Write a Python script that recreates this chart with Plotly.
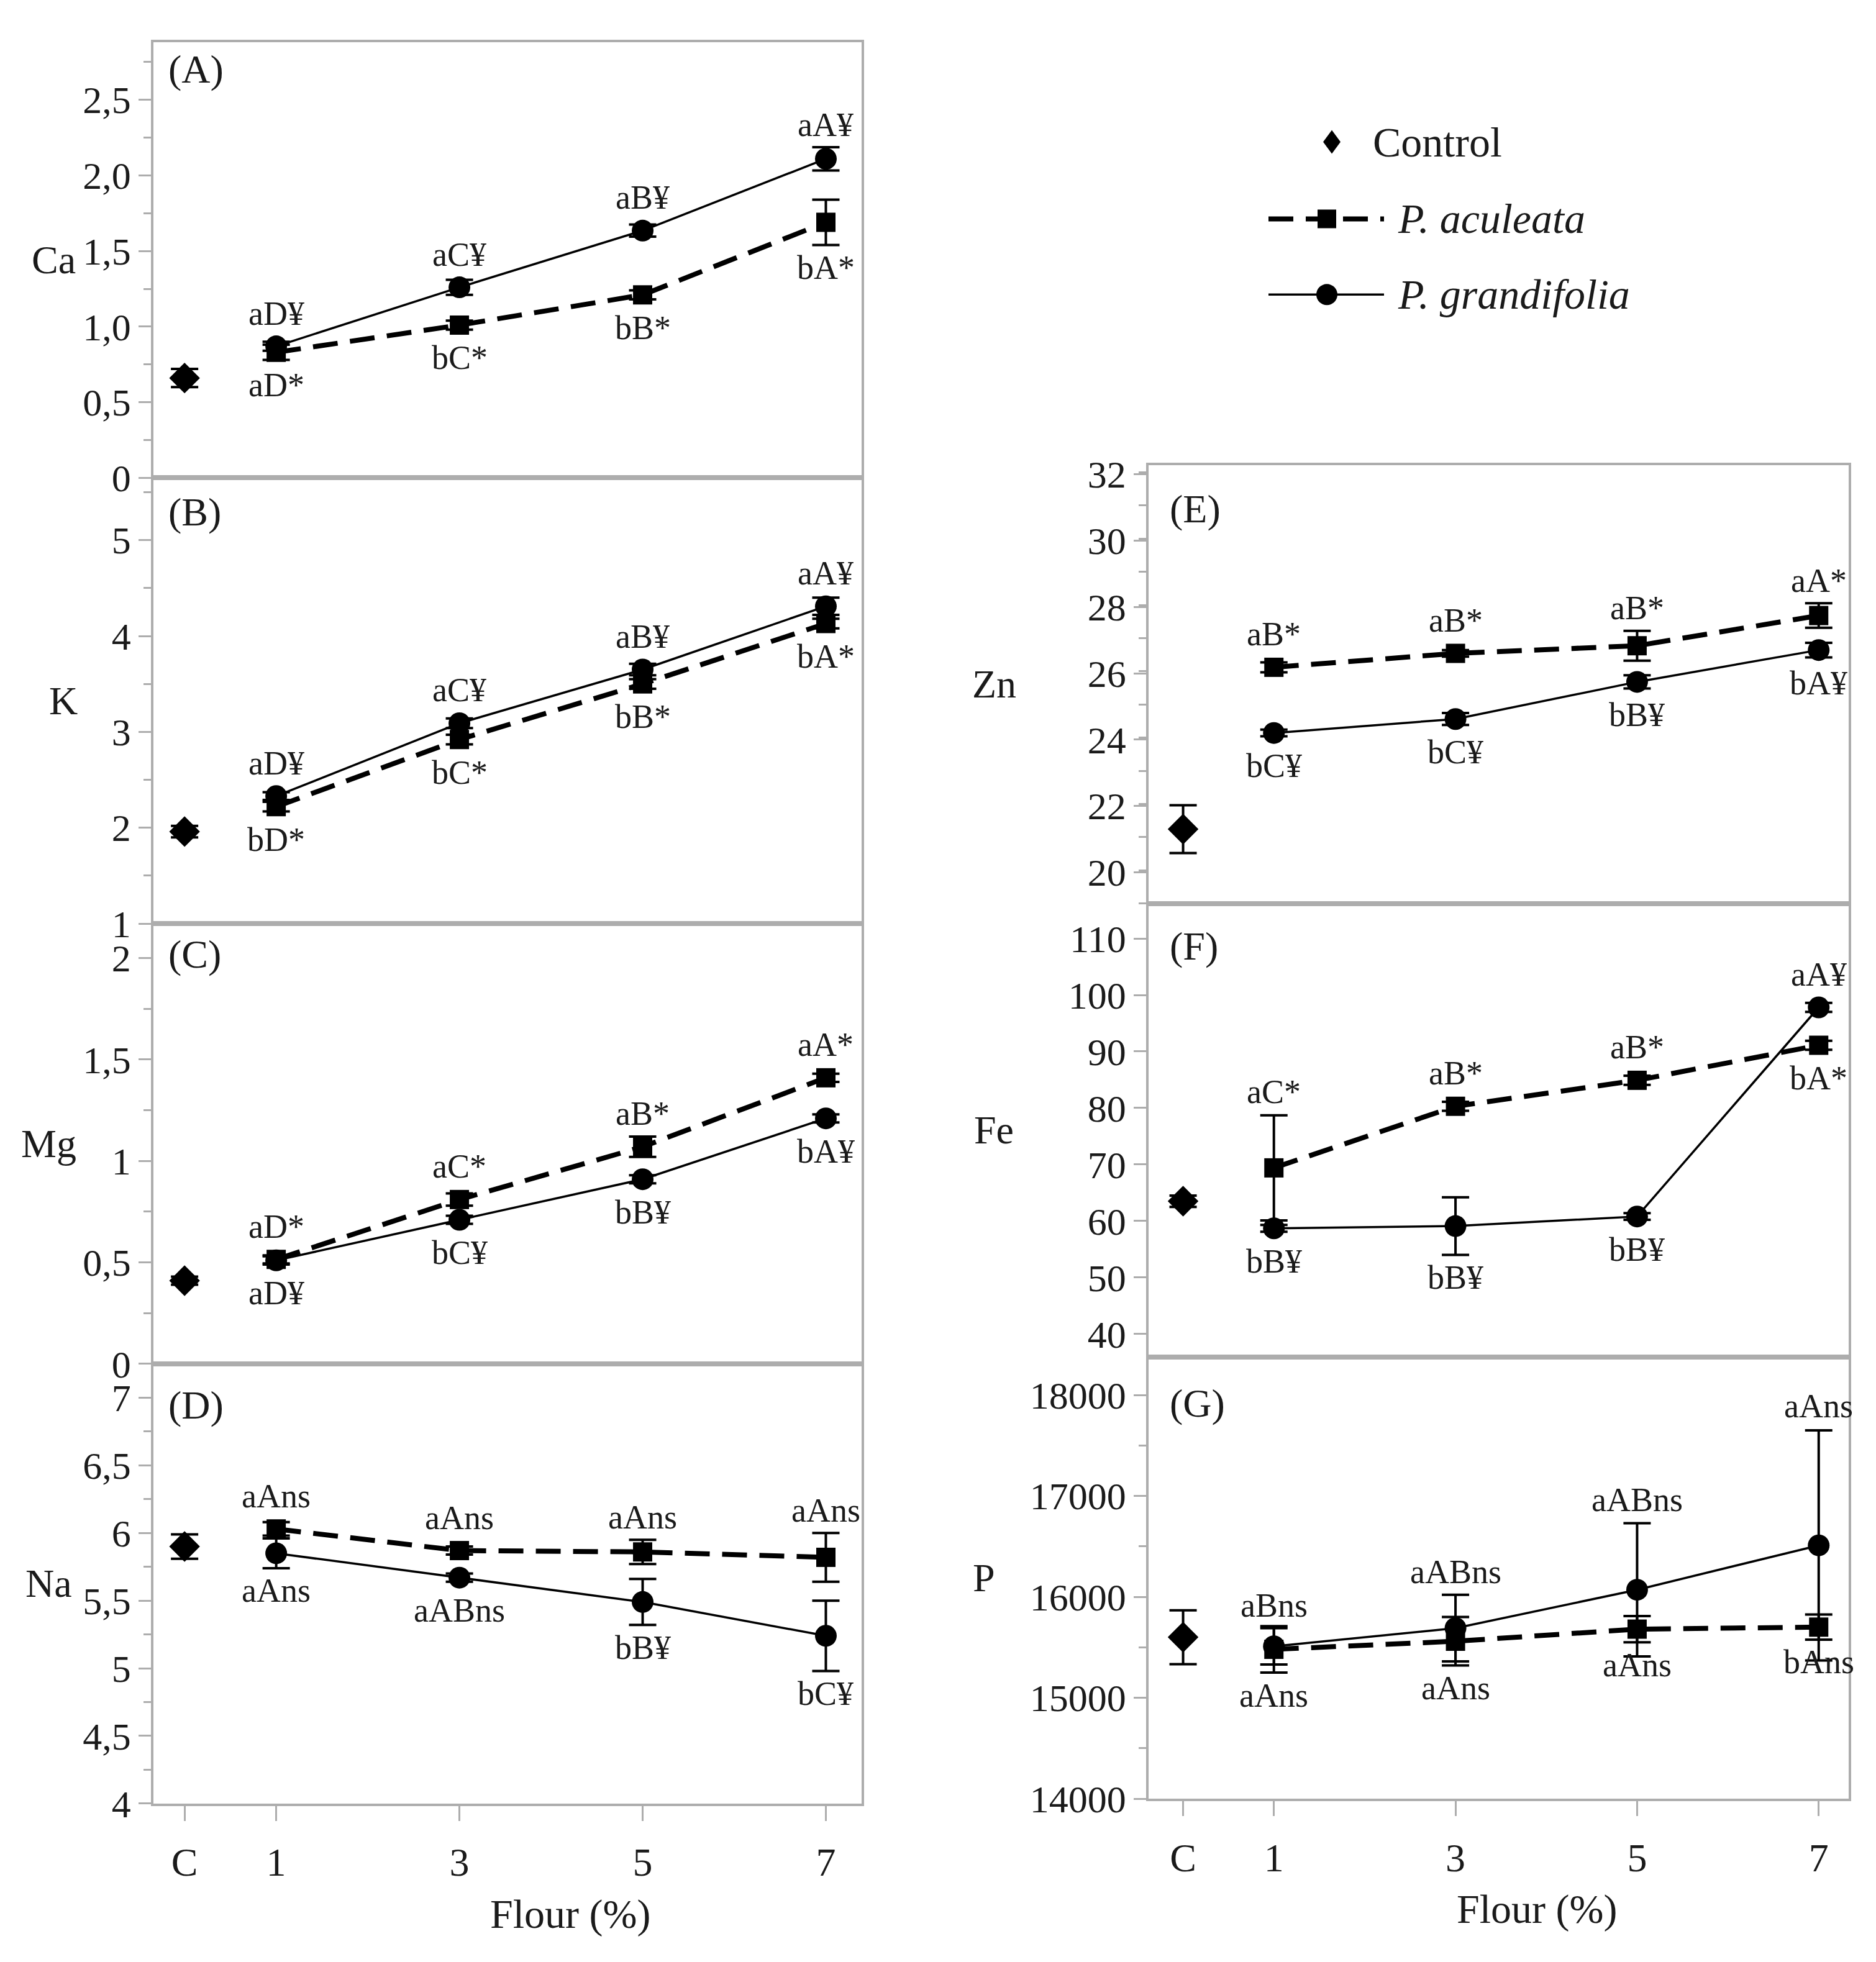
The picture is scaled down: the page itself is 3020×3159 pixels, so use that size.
import plotly.graph_objects as go

W, H = 3020, 3159

flour = [1, 3, 5, 7]
ctrl_x = [0]
x_tickvals = [0, 1, 3, 5, 7]
x_ticktext = ["C", "1", "3", "5", "7"]

# (A) Ca
ca_ctrl, ca_ctrl_err = [0.66], [0.06]
ca_acu = [0.83, 1.01, 1.21, 1.69]
ca_acu_err = [0.05, 0.03, 0.03, 0.15]
ca_gra = [0.87, 1.26, 1.635, 2.11]
ca_gra_err = [0.03, 0.05, 0.04, 0.077]
ca_acu_lbl = ["aD*", "bC*", "bB*", "bA*"]
ca_gra_lbl = ["aD¥", "aC¥", "aB¥", "aA¥"]
ca_ticks = [0, 0.5, 1.0, 1.5, 2.0, 2.5]
ca_ticktext = ["0", "0,5", "1,0", "1,5", "2,0", "2,5"]

# (B) K
k_ctrl, k_ctrl_err = [1.96], [0.06]
k_acu = [2.22, 2.92, 3.50, 4.13]
k_acu_err = [0.05, 0.05, 0.05, 0.05]
k_gra = [2.33, 3.09, 3.65, 4.31]
k_gra_err = [0.04, 0.05, 0.06, 0.09]
k_acu_lbl = ["bD*", "bC*", "bB*", "bA*"]
k_gra_lbl = ["aD¥", "aC¥", "aB¥", "aA¥"]
k_ticks = [1, 2, 3, 4, 5]
k_ticktext = ["1", "2", "3", "4", "5"]

# (C) Mg
mg_ctrl, mg_ctrl_err = [0.41], [0.02]
mg_acu = [0.515, 0.81, 1.07, 1.41]
mg_acu_err = [0.02, 0.03, 0.05, 0.02]
mg_gra = [0.51, 0.71, 0.91, 1.21]
mg_gra_err = [0.02, 0.02, 0.02, 0.02]
mg_acu_lbl = ["aD*", "aC*", "aB*", "aA*"]
mg_gra_lbl = ["aD¥", "bC¥", "bB¥", "bA¥"]
mg_ticks = [0, 0.5, 1, 1.5, 2]
mg_ticktext = ["0", "0,5", "1", "1,5", "2"]

# (D) Na
na_ctrl, na_ctrl_err = [5.90], [0.09]
na_acu = [6.03, 5.87, 5.86, 5.82]
na_acu_err = [0.05, 0.03, 0.09, 0.18]
na_gra = [5.85, 5.67, 5.49, 5.24]
na_gra_err = [0.11, 0.03, 0.17, 0.26]
na_acu_lbl = ["aAns", "aAns", "aAns", "aAns"]
na_gra_lbl = ["aAns", "aABns", "bB¥", "bC¥"]
na_ticks = [4, 4.5, 5, 5.5, 6, 6.5, 7]
na_ticktext = ["4", "4,5", "5", "5,5", "6", "6,5", "7"]

# (E) Zn
zn_ctrl, zn_ctrl_err = [21.3], [0.72]
zn_acu = [26.18, 26.6, 26.83, 27.74]
zn_acu_err = [0.15, 0.1, 0.45, 0.37]
zn_gra = [24.2, 24.62, 25.74, 26.7]
zn_gra_err = [0.1, 0.18, 0.2, 0.22]
zn_acu_lbl = ["aB*", "aB*", "aB*", "aA*"]
zn_gra_lbl = ["bC¥", "bC¥", "bB¥", "bA¥"]
zn_ticks = [20, 22, 24, 26, 28, 30, 32]
zn_ticktext = ["20", "22", "24", "26", "28", "30", "32"]

# (F) Fe
fe_ctrl, fe_ctrl_err = [63.5], [1.0]
fe_acu = [69.4, 80.3, 84.9, 91.1]
fe_acu_err = [9.3, 0.8, 0.8, 0.8]
fe_gra = [58.7, 59.1, 60.8, 97.8]
fe_gra_err = [0.6, 5.1, 0.6, 0.8]
fe_acu_lbl = ["aC*", "aB*", "aB*", "bA*"]
fe_gra_lbl = ["bB¥", "bB¥", "bB¥", "aA¥"]
fe_ticks = [40, 50, 60, 70, 80, 90, 100, 110]
fe_ticktext = ["40", "50", "60", "70", "80", "90", "100", "110"]

# (G) P
p_ctrl, p_ctrl_err = [15600], [267]
p_acu = [15480, 15560, 15680, 15700]
p_acu_err = [230, 240, 130, 125]
p_gra = [15510, 15690, 16070, 16510]
p_gra_err = [180, 330, 660, 1140]
p_acu_lbl = ["aAns", "aAns", "aAns", "bAns"]
p_gra_lbl = ["aBns", "aABns", "aABns", "aAns"]
p_ticks = [14000, 15000, 16000, 17000, 18000]
p_ticktext = ["14000", "15000", "16000", "17000", "18000"]

UP, DN = 1, -1
FONT = "Liberation Serif, Times New Roman, serif"
GRAY = "#adadad"
INK = "#1a1a1a"

left_dom = [239 / W, 1379 / W]
right_dom = [1841 / W, 2968 / W]


def ydom(top_px, bot_px):
    return [1 - bot_px / H, 1 - top_px / H]


panels = [
    dict(title="Ca", title_x=78, letter="(A)", ctrl=ca_ctrl, ctrl_err=ca_ctrl_err,
         acu=ca_acu, acu_err=ca_acu_err, gra=ca_gra, gra_err=ca_gra_err,
         acu_lbl=ca_acu_lbl, gra_lbl=ca_gra_lbl, acu_side=[DN] * 4, gra_side=[UP] * 4,
         yrange=[0, 2.88], ticks=ca_ticks, ticktext=ca_ticktext, minor=0.25,
         xdom=left_dom, xrange=[-0.34, 7.39], dom=ydom(43, 756), letter_dy=44, bottom=False),
    dict(title="K", title_x=94, letter="(B)", ctrl=k_ctrl, ctrl_err=k_ctrl_err,
         acu=k_acu, acu_err=k_acu_err, gra=k_gra, gra_err=k_gra_err,
         acu_lbl=k_acu_lbl, gra_lbl=k_gra_lbl, acu_side=[DN] * 4, gra_side=[UP] * 4,
         yrange=[1, 5.65], ticks=k_ticks, ticktext=k_ticktext, minor=0.5,
         xdom=left_dom, xrange=[-0.34, 7.39], dom=ydom(756, 1486), letter_dy=56, bottom=False),
    dict(title="Mg", title_x=70, letter="(C)", ctrl=mg_ctrl, ctrl_err=mg_ctrl_err,
         acu=mg_acu, acu_err=mg_acu_err, gra=mg_gra, gra_err=mg_gra_err,
         acu_lbl=mg_acu_lbl, gra_lbl=mg_gra_lbl, acu_side=[UP] * 4, gra_side=[DN] * 4,
         yrange=[0, 2.17], ticks=mg_ticks, ticktext=mg_ticktext, minor=0.25,
         xdom=left_dom, xrange=[-0.34, 7.39], dom=ydom(1486, 2207), letter_dy=50, bottom=False),
    dict(title="Na", title_x=70, letter="(D)", ctrl=na_ctrl, ctrl_err=na_ctrl_err,
         acu=na_acu, acu_err=na_acu_err, gra=na_gra, gra_err=na_gra_err,
         acu_lbl=na_acu_lbl, gra_lbl=na_gra_lbl, acu_side=[UP] * 4, gra_side=[DN] * 4,
         yrange=[4, 7.25], ticks=na_ticks, ticktext=na_ticktext, minor=0.25,
         xdom=left_dom, xrange=[-0.34, 7.39], dom=ydom(2207, 2927), letter_dy=68, bottom=True),
    dict(title="Zn", title_x=1592, letter="(E)", ctrl=zn_ctrl, ctrl_err=zn_ctrl_err,
         acu=zn_acu, acu_err=zn_acu_err, gra=zn_gra, gra_err=zn_gra_err,
         acu_lbl=zn_acu_lbl, gra_lbl=zn_gra_lbl, acu_side=[UP] * 4, gra_side=[DN] * 4,
         yrange=[19.06, 32.28], ticks=zn_ticks, ticktext=zn_ticktext, minor=1,
         xdom=right_dom, xrange=[-0.38, 7.33], dom=ydom(735, 1453), letter_dy=72, bottom=False),
    dict(title="Fe", title_x=1592, letter="(F)", ctrl=fe_ctrl, ctrl_err=fe_ctrl_err,
         acu=fe_acu, acu_err=fe_acu_err, gra=fe_gra, gra_err=fe_gra_err,
         acu_lbl=fe_acu_lbl, gra_lbl=fe_gra_lbl, acu_side=[UP, UP, UP, DN], gra_side=[DN, DN, DN, UP],
         yrange=[35.9, 116.2], ticks=fe_ticks, ticktext=fe_ticktext, minor=None,
         xdom=right_dom, xrange=[-0.38, 7.33], dom=ydom(1453, 2196), letter_dy=70, bottom=False),
    dict(title="P", title_x=1576, letter="(G)", ctrl=p_ctrl, ctrl_err=p_ctrl_err,
         acu=p_acu, acu_err=p_acu_err, gra=p_gra, gra_err=p_gra_err,
         acu_lbl=p_acu_lbl, gra_lbl=p_gra_lbl, acu_side=[DN] * 4, gra_side=[UP] * 4,
         yrange=[14000, 18375], ticks=p_ticks, ticktext=p_ticktext, minor=500,
         xdom=right_dom, xrange=[-0.38, 7.33], dom=ydom(2196, 2919), letter_dy=76, bottom=True),
]

fig = go.Figure()
annotations = []

for i, p in enumerate(panels):
    n = "" if i == 0 else str(i + 1)
    xa, ya = "x" + n, "y" + n

    fig.add_trace(go.Scatter(
        x=flour, y=p["acu"], xaxis=xa, yaxis=ya, mode="lines+markers",
        line=dict(color="black", width=8, dash="40px,20px"),
        marker=dict(symbol="square", size=31, color="black"),
        error_y=dict(type="data", array=p["acu_err"], color="black", thickness=4, width=22),
        name="P. aculeata", showlegend=False))
    fig.add_trace(go.Scatter(
        x=flour, y=p["gra"], xaxis=xa, yaxis=ya, mode="lines+markers",
        line=dict(color="black", width=3.5),
        marker=dict(symbol="circle", size=35, color="black"),
        error_y=dict(type="data", array=p["gra_err"], color="black", thickness=4, width=22),
        name="P. grandifolia", showlegend=False))
    fig.add_trace(go.Scatter(
        x=ctrl_x, y=p["ctrl"], xaxis=xa, yaxis=ya, mode="markers",
        marker=dict(symbol="diamond", size=38, color="black"),
        error_y=dict(type="data", array=p["ctrl_err"], color="black", thickness=4, width=22),
        name="Control", showlegend=False))

    xax = dict(domain=p["xdom"], range=p["xrange"], anchor=ya, showgrid=False, zeroline=False,
               showline=True, mirror=True, linecolor=GRAY, linewidth=3.5)
    if p["bottom"]:
        xax.update(tickmode="array", tickvals=x_tickvals, ticktext=x_ticktext,
                   ticks="outside", ticklen=24, tickwidth=3, tickcolor=GRAY,
                   ticklabelstandoff=12,
                   tickfont=dict(family=FONT, size=64, color=INK))
    else:
        xax.update(showticklabels=False, ticks="")
    yax = dict(domain=p["dom"], range=p["yrange"], anchor=xa, showgrid=False, zeroline=False,
               showline=True, mirror=True, linecolor=GRAY, linewidth=3.5,
               tickmode="array", tickvals=p["ticks"], ticktext=p["ticktext"],
               ticks="outside", ticklen=20, tickwidth=3, tickcolor=GRAY,
               tickfont=dict(family=FONT, size=62, color=INK))
    if p["minor"]:
        yax["minor"] = dict(tickmode="linear", tick0=p["yrange"][0], dtick=p["minor"],
                            ticks="outside", ticklen=12, tickwidth=3, tickcolor=GRAY)
    fig.layout["xaxis" + n] = xax
    fig.layout["yaxis" + n] = yax

    # significance letters, placed just beyond each point's error bar
    px_per_unit = (p["dom"][1] - p["dom"][0]) * H / (p["yrange"][1] - p["yrange"][0])
    for vals, errs, lbls, sides in ((p["acu"], p["acu_err"], p["acu_lbl"], p["acu_side"]),
                                    (p["gra"], p["gra_err"], p["gra_lbl"], p["gra_side"])):
        for xv, v, e, t, s in zip(flour, vals, errs, lbls, sides):
            off = max(e * px_per_unit, 17) + 36
            annotations.append(dict(x=xv, y=v, xref=xa, yref=ya, text=t, showarrow=False,
                                    yshift=s * off, yanchor="middle",
                                    font=dict(family=FONT, size=54, color=INK)))

    # panel letter
    annotations.append(dict(x=p["xdom"][0] + (22 if p["xdom"] is left_dom else 32) / W,
                            y=p["dom"][1] - p["letter_dy"] / H, xref="paper", yref="paper",
                            xanchor="left", yanchor="middle", text=p["letter"], showarrow=False,
                            font=dict(family=FONT, size=64, color=INK)))
    # element name
    mid = (p["dom"][0] + p["dom"][1]) / 2
    annotations.append(dict(x=p["title_x"] / W, y=mid, xref="paper", yref="paper",
                            xanchor="center", yanchor="middle", text=p["title"], showarrow=False,
                            font=dict(family=FONT, size=64, color=INK)))

# x titles
for xp, yp in ((910, 3108), (2466, 3100)):
    annotations.append(dict(x=xp / W, y=1 - yp / H, xref="paper", yref="paper", text="Flour (%)",
                            xanchor="center", yanchor="middle",
                            showarrow=False, font=dict(family=FONT, size=66, color=INK)))

# legend (drawn)
shapes = []
leg = [("Control", 206, None, "diamond"),
       ("<i>P. aculeata</i>", 332, "40px,20px", "square"),
       ("<i>P. grandifolia</i>", 456, "solid", "circle")]
for text, ly, dash, sym in leg:
    yy = 1 - ly / H
    if dash is not None:
        shapes.append(dict(type="line", xref="paper", yref="paper", x0=2034 / W, x1=2220 / W,
                           y0=yy, y1=yy, line=dict(color="black", width=8 if sym == "square" else 3.5,
                                                   dash=dash)))
    cx = 2136 / W if sym == "diamond" else 2128 / W
    if sym == "diamond":
        shapes.append(dict(type="path", xref="paper", yref="paper", xsizemode="pixel",
                           ysizemode="pixel", xanchor=cx, yanchor=yy,
                           path="M0,19 L14,0 L0,-19 L-14,0 Z", fillcolor="black",
                           line=dict(width=0)))
    elif sym == "square":
        shapes.append(dict(type="rect", xref="paper", yref="paper", xsizemode="pixel",
                           ysizemode="pixel", xanchor=cx, yanchor=yy, x0=-15, x1=15, y0=-15, y1=15,
                           fillcolor="black", line=dict(width=0)))
    else:
        shapes.append(dict(type="circle", xref="paper", yref="paper", xsizemode="pixel",
                           ysizemode="pixel", xanchor=cx, yanchor=yy, x0=-17, x1=17, y0=-17, y1=17,
                           fillcolor="black", line=dict(width=0)))
    annotations.append(dict(x=(2200 if sym == "diamond" else 2240) / W, y=yy, xref="paper",
                            yref="paper", xanchor="left", yanchor="middle", text=text,
                            showarrow=False, font=dict(family=FONT, size=68, color=INK)))

fig.update_layout(width=W, height=H, margin=dict(l=0, r=0, t=0, b=0),
                  paper_bgcolor="white", plot_bgcolor="white", showlegend=False,
                  annotations=annotations, shapes=shapes, separators=",.")

fig.write_html("out.html")
